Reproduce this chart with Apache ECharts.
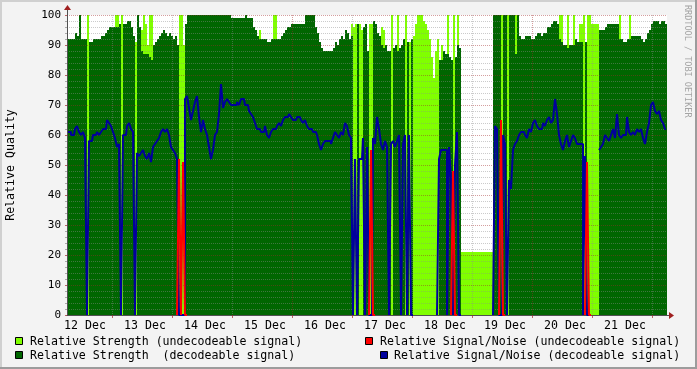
<!DOCTYPE html>
<html><head><meta charset="utf-8">
<script src="https://cdn.jsdelivr.net/npm/echarts@6/dist/echarts.min.js"></script>
<style>html,body{margin:0;padding:0;background:#f3f3f3}#c{width:697px;height:369px}</style>
</head><body><div id="c"></div><script>
const _ = null;
// x axis: hours since 12 Dec 06:00, one sample every 0.8 h (300 samples over 10 days)
const dayLabels = ['12 Dec','13 Dec','14 Dec','15 Dec','16 Dec','17 Dec','18 Dec','19 Dec','20 Dec','21 Dec'];

// Relative Strength (decodeable signal)
const strengthDec = [
 92,92,92,92,94,93,100,92,92,92,
 _,91,91,92,92,92,92,93,93,94,
 95,96,96,96,96,96,97,_,97,97,
 98,98,96,93,_,100,96,88,87,87,
 87,86,85,90,91,92,93,94,95,94,
 93,94,93,92,93,90,_,_,_,97,
 100,100,100,100,100,100,100,100,100,100,
 100,100,100,100,100,100,100,100,100,100,
 100,100,99,99,99,99,99,99,99,100,
 99,99,99,96,95,93,92,92,92,92,
 91,91,92,92,92,92,92,93,94,95,
 96,96,97,97,97,97,97,97,97,100,
 100,100,100,100,96,94,91,89,88,88,
 88,88,88,89,91,90,92,93,92,95,
 94,92,93,_,_,97,_,_,96,97,
 88,_,_,98,97,94,93,90,89,90,
 88,88,_,89,90,88,89,90,92,_,
 91,_,92,_,_,_,_,_,_,_,
 _,_,_,_,_,_,85,85,88,87,
 87,86,85,_,86,90,89,_,_,_,
 _,_,_,_,_,_,_,_,_,_,
 _,_,_,100,100,100,100,_,100,100,
 _,100,100,100,87,100,93,92,92,93,
 93,93,92,92,93,94,94,93,94,94,
 96,96,97,98,98,97,92,91,90,90,
 89,90,90,90,92,91,91,91,_,91,
 _,_,_,_,_,_,95,95,95,96,
 97,97,97,97,97,97,92,92,91,91,
 92,92,93,93,93,93,93,92,91,92,
 94,95,97,98,98,98,97,98,98,97
];
// Relative Strength (undecodeable signal)
const strengthUndec = [
 _,_,_,_,_,_,_,_,_,_,
 100,_,_,_,_,_,_,_,_,_,
 _,_,_,_,100,100,_,100,_,_,
 _,_,_,_,91,_,_,95,100,97,
 90,100,100,_,_,_,_,_,_,_,
 _,_,_,_,_,_,100,100,90,_,
 _,_,_,_,_,_,_,_,_,_,
 _,_,_,_,_,_,_,_,_,_,
 _,_,_,_,_,_,_,_,_,_,
 _,_,_,_,_,_,95,_,_,_,
 _,_,_,100,100,_,_,_,_,_,
 _,_,_,_,_,_,_,_,_,_,
 _,_,_,_,_,_,_,_,_,_,
 _,_,_,_,_,_,_,_,_,_,
 _,_,97,96,97,_,97,95,_,_,
 _,97,97,_,_,_,_,96,95,_,
 _,_,100,_,_,100,_,_,_,100,
 _,91,_,93,97,100,100,100,98,97,
 95,92,86,79,88,92,_,90,_,_,
 100,_,_,100,_,100,_,21,21,21,
 21,21,21,21,21,21,21,21,21,21,
 21,21,21,_,_,_,_,100,_,_,
 100,_,_,_,100,_,_,_,_,_,
 _,_,_,_,_,_,_,_,_,_,
 _,_,_,_,_,_,100,100,_,_,
 100,_,_,100,_,_,97,97,100,_,
 100,100,97,97,97,97,_,_,_,_,
 _,_,_,_,_,_,100,_,_,_,
 _,100,_,_,_,_,_,_,_,_,
 _,_,_,_,_,_,_,_,_,_
];
// Relative Signal/Noise (decodeable signal)
const snrDec = [
 61,61,60,60,62,63,61,60,61,59,
 0,58,58,60,60,61,60,61,62,62,
 65,64,63,61,59,56,57,0,60,60,
 63,64,62,61,0,54,53,54,55,53,
 52,54,51,56,57,58,59,61,62,61,
 62,60,56,55,54,52,0,0,0,72,
 73,69,65,68,71,73,66,61,65,62,
 60,56,52,55,60,61,67,77,69,71,
 72,71,70,70,70,71,70,72,72,70,
 70,68,67,66,64,62,62,61,61,63,
 60,59,61,62,62,63,64,63,65,66,
 66,67,66,65,65,66,66,65,64,65,
 63,62,62,61,61,60,57,55,57,58,
 58,58,57,59,61,60,59,61,60,64,
 63,60,59,0,52,0,52,52,59,0,
 56,0,0,59,57,66,62,57,55,58,
 56,0,57,58,56,58,60,0,57,60,
 0,60,0,_,_,_,_,_,_,_,
 _,_,_,_,_,0,52,55,55,55,
 0,56,45,0,50,61,0,_,_,_,
 _,_,_,_,_,_,_,_,_,_,
 _,_,_,0,63,62,0,0,60,57,
 0,45,42,55,57,58,60,61,61,60,
 59,62,61,64,65,63,62,62,64,63,
 65,66,64,65,72,67,60,57,55,58,
 60,56,58,60,59,57,57,57,0,53,
 0,0,_,_,_,_,55,56,57,60,
 59,58,60,62,59,67,60,59,60,60,
 66,61,60,61,60,62,61,62,59,57,
 61,64,70,71,68,67,68,65,64,62
];
// Relative Signal/Noise (undecodeable signal)
const snrUndec = [
 _,_,_,_,_,_,_,_,_,_,
 _,_,_,_,_,_,_,_,_,_,
 _,_,_,_,_,_,_,_,_,_,
 _,_,_,_,_,_,_,_,_,_,
 _,_,_,_,_,_,_,_,_,_,
 _,_,_,_,_,0,52,0,51,0,
 _,_,_,_,_,_,_,_,_,_,
 _,_,_,_,_,_,_,_,_,_,
 _,_,_,_,_,_,_,_,_,_,
 _,_,_,_,_,_,_,_,_,_,
 _,_,_,_,_,_,_,_,_,_,
 _,_,_,_,_,_,_,_,_,_,
 _,_,_,_,_,_,_,_,_,_,
 _,_,_,_,_,_,_,_,_,_,
 _,_,_,_,_,_,_,_,_,_,
 _,0,55,0,_,_,_,_,_,_,
 _,_,_,_,_,_,_,_,_,_,
 _,_,_,_,_,_,_,_,_,_,
 _,_,_,_,_,_,_,_,_,_,
 _,_,0,48,0,_,_,_,_,_,
 _,_,_,_,_,_,_,_,_,_,
 _,_,_,_,_,_,0,65,0,_,
 _,_,_,_,_,_,_,_,_,_,
 _,_,_,_,_,_,_,_,_,_,
 _,_,_,_,_,_,_,_,_,_,
 _,_,_,_,_,_,_,_,_,0,
 51,0,_,_,_,_,_,_,_,_,
 _,_,_,_,_,_,_,_,_,_,
 _,_,_,_,_,_,_,_,_,_,
 _,_,_,_,_,_,_,_,_,_
];

const legendNames = [
  'Relative Strength (undecodeable signal)',
  'Relative Strength  (decodeable signal)',
  'Relative Signal/Noise (undecodeable signal)',
  'Relative Signal/Noise (decodeable signal)'
];
const colLG = '#80ff00', colDG = '#006600', colRed = '#ff0000', colBlue = '#00009c';
const hoursPerSample = 0.8;
const totalHours = strengthDec.length * hoursPerSample; // 240
const cats = strengthDec.map((v, i) => i);
const mono = 'DejaVu Sans Mono';
const minorCol = 'rgba(140,140,140,0.45)';
const majorCol = 'rgba(160,40,40,0.45)';

const chart = echarts.init(document.getElementById('c'), null, {renderer: 'canvas'});
const legendBox = (x, y, fill) => ({type: 'rect', shape: {x: x + 0.5, y: y + 0.5, width: 7, height: 7}, style: {fill: fill, stroke: '#000', lineWidth: 1}, z: 10});
const legendText = (x, y, t) => ({type: 'text', x: x, y: y, style: {text: t, font: '11.6px "DejaVu Sans Mono"', fill: '#000', verticalAlign: 'middle'}, z: 10});

chart.setOption({
  animation: false,
  backgroundColor: '#f3f3f3',
  grid: {left: 67, right: 30, top: 15, bottom: 54, containLabel: false, outerBoundsMode: 'none',
    show: true, backgroundColor: '#ffffff', borderWidth: 0},
  xAxis: [
    {type: 'category', data: cats, boundaryGap: true, show: false},
    {type: 'value', min: 0, max: totalHours, interval: 6, position: 'bottom', z: 2,
      axisLine: {show: true, onZero: false, lineStyle: {color: '#505050', width: 1}},
      axisTick: {show: true, length: 3, customValues: dayLabels.map((d, k) => 18 + 24 * k), lineStyle: {color: 'rgba(160,40,40,0.7)'}},
      axisLabel: {show: true, fontFamily: mono, fontSize: 11.6, color: '#000', margin: 5, padding: [0, 0, 0, 6],
        showMinLabel: false, showMaxLabel: false,
        formatter: v => (v % 24 === 6 ? dayLabels[(v - 6) / 24] : '')},
      splitLine: {show: true, lineStyle: {color: [minorCol, minorCol, minorCol, majorCol], width: 1, type: [1, 1]}}
    }
  ],
  yAxis: {type: 'value', min: 0, max: 100, interval: 10, z: 2,
    name: 'Relative Quality', nameLocation: 'middle', nameRotate: 90, nameGap: 50,
    nameTextStyle: {fontFamily: mono, fontSize: 11.6, color: '#000'},
    axisLine: {show: true, lineStyle: {color: '#505050', width: 1}},
    axisTick: {show: true, length: 2, lineStyle: {color: 'rgba(160,40,40,0.7)'}},
    minorTick: {show: true, splitNumber: 5, length: 2, lineStyle: {color: 'rgba(140,140,140,0.7)'}},
    axisLabel: {fontFamily: mono, fontSize: 11, color: '#000', margin: 6, formatter: v => String(v)},
    splitLine: {show: true, lineStyle: {color: majorCol, width: 1, type: [1, 1]}},
    minorSplitLine: {show: true, lineStyle: {color: minorCol, width: 1, type: [1, 1]}}
  },
  series: [
    {name: legendNames[0], type: 'bar', xAxisIndex: 0, data: strengthUndec, barCategoryGap: '0%', barGap: '-100%',
      itemStyle: {color: colLG}, z: 1, silent: true, large: false},
    {name: legendNames[1], type: 'bar', xAxisIndex: 0, data: strengthDec, barCategoryGap: '0%', barGap: '-100%',
      itemStyle: {color: colDG}, z: 1, silent: true, large: false},
    {name: legendNames[3], type: 'line', xAxisIndex: 0, data: snrDec, step: 'middle', showSymbol: false, symbol: 'none',
      connectNulls: false, lineStyle: {color: colBlue, width: 2}, z: 3, silent: true},
    {name: legendNames[2], type: 'line', xAxisIndex: 0, data: snrUndec, step: 'middle', showSymbol: false, symbol: 'none',
      connectNulls: false, lineStyle: {color: colRed, width: 2}, z: 4, silent: true}
  ],
  graphic: [
    // axis extensions and arrows
    {type: 'line', shape: {x1: 67.5, y1: 15, x2: 67.5, y2: 9}, style: {stroke: '#505050', lineWidth: 1}, z: 10},
    {type: 'polygon', shape: {points: [[64, 10], [71, 10], [67.5, 5]]}, style: {fill: '#a02020'}, z: 10},
    {type: 'line', shape: {x1: 666, y1: 315.5, x2: 670, y2: 315.5}, style: {stroke: '#505050', lineWidth: 1}, z: 10},
    {type: 'polygon', shape: {points: [[669, 312], [669, 319], [674, 315.5]]}, style: {fill: '#a02020'}, z: 10},
    // frame shading
    {type: 'rect', shape: {x: 0, y: 367, width: 697, height: 2}, style: {fill: '#9c9c9c'}, z: 10},
    {type: 'rect', shape: {x: 695, y: 0, width: 2, height: 369}, style: {fill: '#9c9c9c'}, z: 10},
    {type: 'rect', shape: {x: 0, y: 0, width: 697, height: 2}, style: {fill: '#d0d0d0'}, z: 9},
    {type: 'rect', shape: {x: 0, y: 0, width: 2, height: 369}, style: {fill: '#d0d0d0'}, z: 9},
    // watermark
    {type: 'text', x: 692, y: 5, rotation: -Math.PI / 2, style: {text: 'RRDTOOL / TOBI OETIKER', font: '8.5px "DejaVu Sans Mono"', fill: '#a4a4a4', verticalAlign: 'top'}, z: 10},
    // legend
    legendBox(15, 337, colLG), legendText(30, 341.5, legendNames[0]),
    legendBox(15, 351, colDG), legendText(30, 355.5, legendNames[1]),
    legendBox(365, 337, colRed), legendText(380, 341.5, legendNames[2]),
    legendBox(380, 351, colBlue), legendText(394, 355.5, legendNames[3])
  ]
});
</script></body></html>
